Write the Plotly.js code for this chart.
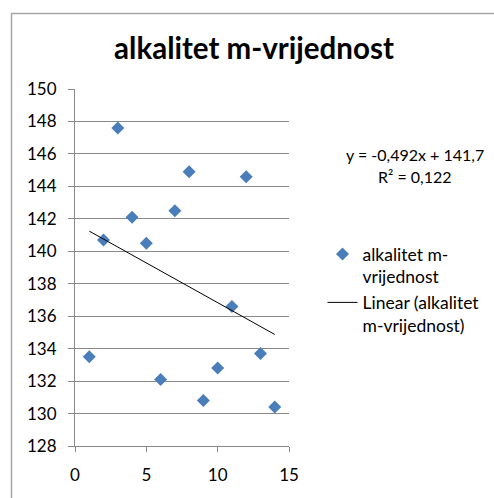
<!DOCTYPE html>
<html>
<head>
<meta charset="utf-8">
<script src="https://cdn.plot.ly/plotly-3.0.1.min.js"></script>
<style>html,body{margin:0;padding:0;background:#fff;}#chart{width:494px;height:498px;}</style>
</head>
<body>
<div id="chart"></div>
<script>
// Data
const xValues = [1, 2, 3, 4, 5, 6, 7, 8, 9, 10, 11, 12, 13, 14];
const yValues = [133.5, 140.7, 147.6, 142.1, 140.5, 132.1, 142.5, 144.9, 130.8, 132.8, 136.6, 144.6, 133.7, 130.4];
const seriesName = 'alkalitet m-<br>vrijednost';
const trendName = 'Linear (alkalitet<br>m-vrijednost)';
const titleText = 'alkalitet m-vrijednost';
const equationLines = ['y = -0,492x + 141,7', 'R² = 0,122'];

// least-squares linear trend from the data
const n = xValues.length;
const mx = xValues.reduce((a, b) => a + b, 0) / n;
const my = yValues.reduce((a, b) => a + b, 0) / n;
let sxy = 0, sxx = 0;
for (let i = 0; i < n; i++) { sxy += (xValues[i] - mx) * (yValues[i] - my); sxx += (xValues[i] - mx) ** 2; }
const slope = sxy / sxx, intercept = my - slope * mx;
const trendX = [Math.min(...xValues), Math.max(...xValues)];
const trendY = trendX.map(x => intercept + slope * x);

const W = 494, H = 498;
const M = {l: 75, r: 205, t: 89, b: 52, autoexpand: false};
const PW = W - M.l - M.r, PH = H - M.t - M.b;
const px = x => (x - M.l) / PW;
const py = y => 1 - (y - M.t) / PH;
const FONT = 'Lato, "Noto Sans", sans-serif';
const grid = '#898989';

const traces = [
  {x: xValues, y: yValues, type: 'scatter', mode: 'markers', name: seriesName,
   marker: {symbol: 'diamond', size: 10, color: '#4A7EBB'}},
  {x: trendX, y: trendY, type: 'scatter', mode: 'lines', name: trendName,
   line: {color: '#000000', width: 1}}
];

const layout = {
  width: W, height: H,
  margin: M,
  paper_bgcolor: '#ffffff', plot_bgcolor: '#ffffff',
  font: {family: FONT, color: '#000000', size: 14},
  title: {text: '<b>' + titleText + '</b>', font: {family: FONT, size: 29.5, color: '#000'},
          x: px(254), xref: 'paper', xanchor: 'center', y: 1 - 49 / H, yanchor: 'middle', automargin: false},
  xaxis: {range: [0, 15], dtick: 5, tick0: 0, showgrid: false, zeroline: false,
          showline: true, linecolor: grid, linewidth: 1, automargin: false,
          ticks: 'outside', ticklen: 5, tickcolor: grid, tickwidth: 1, ticklabelstandoff: 9,
          tickfont: {family: FONT, size: 17, color: '#000'}, fixedrange: true},
  yaxis: {range: [128, 150], dtick: 2, tick0: 128, showgrid: true, gridcolor: grid, gridwidth: 1,
          zeroline: false, showline: true, linecolor: grid, linewidth: 1, automargin: false,
          ticks: 'outside', ticklen: 6, tickcolor: grid, tickwidth: 1, ticklabelstandoff: 8,
          tickfont: {family: FONT, size: 17, color: '#000'}, fixedrange: true},
  showlegend: true,
  legend: {x: px(322.5), y: py(236), xanchor: 'left', yanchor: 'top', valign: 'top',
           font: {family: FONT, size: 17.5, color: '#000'}, bgcolor: 'rgba(0,0,0,0)',
           borderwidth: 0},
  annotations: [
    {text: equationLines[0], xref: 'paper', yref: 'paper', x: px(414.7), y: py(154),
     xanchor: 'center', yanchor: 'middle', showarrow: false, font: {family: FONT, size: 16, color: '#000'}},
    {text: equationLines[1], xref: 'paper', yref: 'paper', x: px(414.7), y: py(176),
     xanchor: 'center', yanchor: 'middle', showarrow: false, font: {family: FONT, size: 16, color: '#000'}}
  ],
  shapes: [
    {type: 'line', xref: 'paper', yref: 'paper', x0: px(11.5), x1: px(11.5), y0: py(13.5), y1: py(510),
     line: {color: '#A6A6A6', width: 1.5}},
    {type: 'line', xref: 'paper', yref: 'paper', x0: px(11), x1: px(510), y0: py(13.5), y1: py(13.5),
     line: {color: '#A6A6A6', width: 1.5}}
  ]
};

Plotly.newPlot('chart', traces, layout, {displayModeBar: false, staticPlot: true});
</script>
</body>
</html>
